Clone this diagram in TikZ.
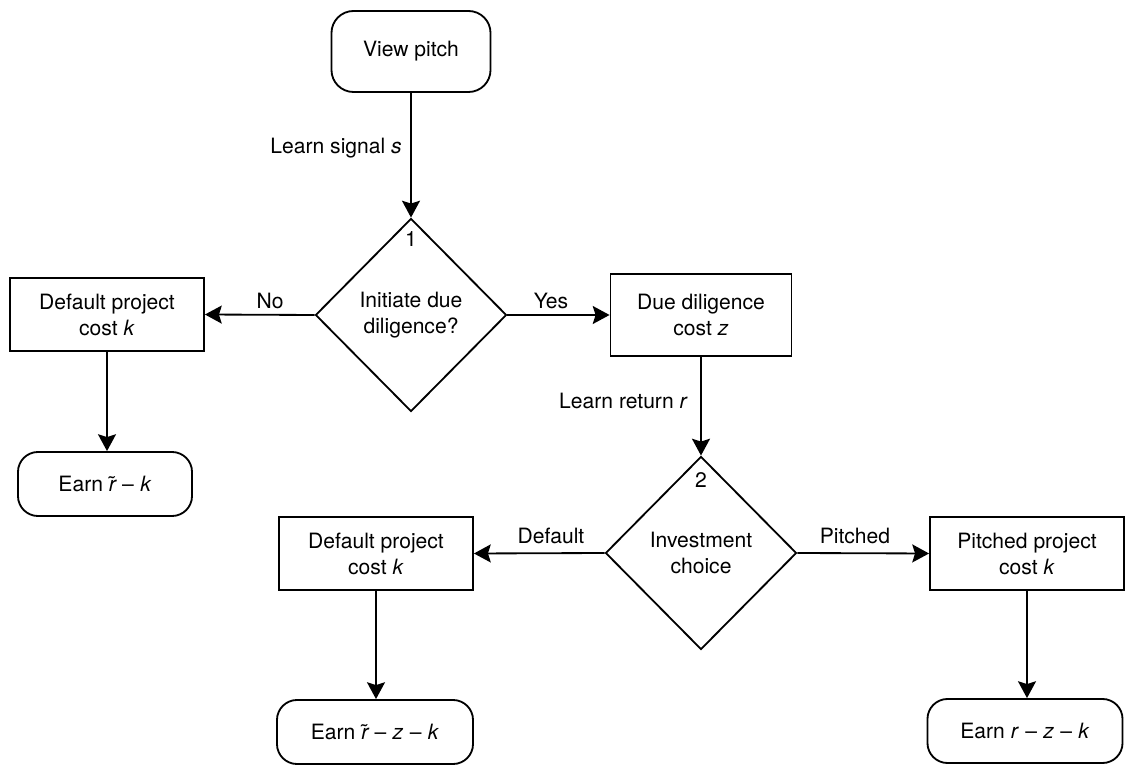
\documentclass[tikz,border=0pt]{standalone}
\usepackage{fontspec}
\setmainfont{TeX Gyre Heros}
\usetikzlibrary{shapes.geometric,arrows.meta}

% dash with a little room on both sides
\newcommand{\mminus}{\hspace{0.3em}–\hspace{0.3em}}

\tikzset{
  every node/.style={font=\fontsize{15}{18.5}\selectfont},
  startstop/.style={draw, rectangle, rounded corners=0.5cm, line width=1.3pt, align=center, inner sep=0pt, minimum height=1.6cm},
  process/.style={draw, rectangle, line width=1.3pt, align=center, inner sep=0pt, minimum width=4.85cm, minimum height=1.825cm},
  decision/.style={draw, diamond, line width=1.3pt, align=center, inner sep=0pt, minimum width=4.775cm, minimum height=4.825cm},
  lbl/.style={inner sep=0pt},
  flow/.style={line width=1.3pt, -{Stealth[length=0.42cm, width=0.45cm, inset=0.07cm]}}
}

\begin{document}
\begin{tikzpicture}[x=0.025cm, y=-0.025cm]
\useasboundingbox (0,0) rectangle (1125,766);

% Start
\node[startstop, rounded corners=0.55cm, minimum width=3.975cm, minimum height=2.025cm] (pitch) at (411,51.5) {View pitch};

% Decision 1
\node[decision] (dec1) at (411,315) {Initiate due\\diligence?};
\node[lbl] (num1) at (411,239) {1};

% No branch
\node[process] (nobox) at (107,314.5) {Default project\\cost \textit{k}};
\node[startstop, minimum width=4.35cm] (earn1) at (105,484) {Earn \textit{\~r}\mminus\textit{k}};

% Yes branch
\node[process, minimum width=4.525cm, minimum height=2.05cm] (ddbox) at (701,315) {Due diligence\\cost \textit{z}};

% Decision 2
\node[decision] (dec2) at (701,553) {Investment\\choice};
\node[lbl] (num2) at (701,480) {2};

% Default and pitched projects
\node[process] (defbox) at (376,553.5) {Default project\\cost \textit{k}};
\node[process] (pitbox) at (1027,553.5) {Pitched project\\cost \textit{k}};
\node[startstop, minimum width=4.9cm] (earn2) at (375,732) {Earn \textit{\~r}\mminus\textit{z}\mminus\textit{k}};
\node[startstop, minimum width=4.875cm] (earn3) at (1025,731) {Earn \textit{r}\mminus\textit{z}\mminus\textit{k}};

% Edge labels
\node[lbl, anchor=east] (lsig) at (402,148) {Learn signal \textit{s}};
\node[lbl] (lno) at (270,301) {No};
\node[lbl] (lyes) at (551,301) {Yes};
\node[lbl, anchor=east] (lret) at (688,401) {Learn return \textit{r}};
\node[lbl] (ldef) at (551,536) {Default};
\node[lbl] (lpit) at (855,536) {Pitched};

% Arrows
\draw[flow] (pitch) -- (dec1);
\draw[flow] (dec1.west) -- (nobox.east);
\draw[flow] (dec1.east) -- (ddbox.west);
\draw[flow] (nobox.south) -- (nobox.south |- earn1.north);
\draw[flow] (ddbox.south) -- (dec2.north);
\draw[flow] (dec2.west) -- (defbox.east);
\draw[flow] (dec2.east) -- (pitbox.west);
\draw[flow] (defbox.south) -- (defbox.south |- earn2.north);
\draw[flow] (pitbox.south) -- (pitbox.south |- earn3.north);

\end{tikzpicture}
\end{document}
